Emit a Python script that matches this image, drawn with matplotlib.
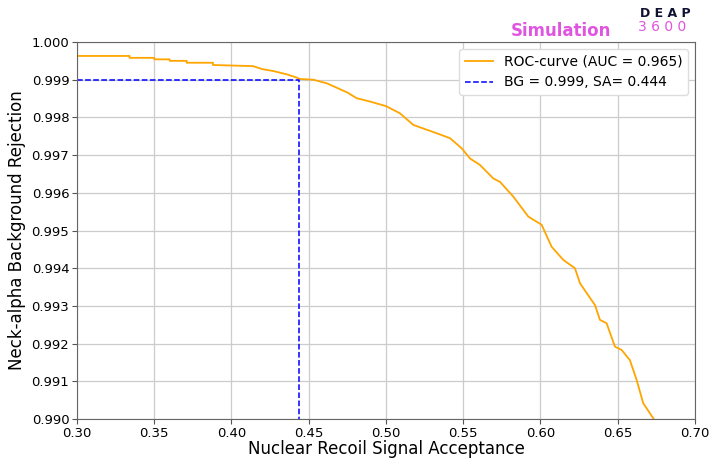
import numpy as np
import matplotlib
matplotlib.use("Agg")
import matplotlib.pyplot as plt

# ROC curve (signal acceptance, background rejection)
sig_acc = [0.300, 0.334, 0.334, 0.350, 0.350, 0.360, 0.360, 0.371, 0.371, 0.388,
           0.388, 0.414, 0.420, 0.427, 0.436, 0.442, 0.444, 0.453, 0.462, 0.475,
           0.481, 0.4897, 0.500, 0.509, 0.5177, 0.5328, 0.5414, 0.549, 0.5544,
           0.5608, 0.5695, 0.5738, 0.5824, 0.5921, 0.6008, 0.6072, 0.6148, 0.6223,
           0.6256, 0.6353, 0.6385, 0.6428, 0.6482, 0.6526, 0.6579, 0.6623, 0.6665,
           0.673, 0.675]
bg_rej = [0.99963, 0.99963, 0.99958, 0.99958, 0.99954, 0.99954, 0.99950, 0.99950,
          0.99945, 0.99945, 0.99939, 0.99936, 0.99928, 0.99923, 0.99914, 0.99906,
          0.99902, 0.99900, 0.99890, 0.99866, 0.99851, 0.99842, 0.99830, 0.99811,
          0.99780, 0.99758, 0.99745, 0.99718, 0.99691, 0.99674, 0.99638, 0.99629,
          0.99590, 0.99537, 0.99515, 0.99457, 0.99422, 0.99400, 0.99360, 0.99302,
          0.99263, 0.99254, 0.99192, 0.99183, 0.99156, 0.99103, 0.99042, 0.99002,
          0.98990]

auc = 0.965
cut_bg = 0.999
cut_sa = 0.444

fig = plt.figure(figsize=(7.09, 4.59), dpi=100)
ax = fig.add_axes([0.1086, 0.0871, 0.8716, 0.8214])

ax.plot(sig_acc, bg_rej, color='orange', lw=1.3,
        label='ROC-curve (AUC = %.3f)' % auc)
ax.plot([0.30, cut_sa, cut_sa], [cut_bg, cut_bg, 0.990], color='blue', ls='--', lw=1.1,
        label='BG = %.3f, SA= %.3f' % (cut_bg, cut_sa))

ax.set_xlim(0.30, 0.70)
ax.set_ylim(0.990, 1.000)
ax.set_xticks(np.arange(0.30, 0.701, 0.05))
ax.set_yticks(np.arange(0.990, 1.0001, 0.001))
ax.xaxis.set_major_formatter(matplotlib.ticker.FormatStrFormatter('%.2f'))
ax.yaxis.set_major_formatter(matplotlib.ticker.FormatStrFormatter('%.3f'))
ax.tick_params(labelsize=9.5, color='#555555', length=3.5, pad=2)
ax.grid(True, color='#cccccc', lw=0.9)
for s in ax.spines.values():
    s.set_color('#666666')

ax.set_xlabel('Nuclear Recoil Signal Acceptance', fontsize=12, labelpad=0)
ax.set_ylabel('Neck-alpha Background Rejection', fontsize=12, labelpad=4)
ax.legend(loc='upper right', fontsize=10, framealpha=1, edgecolor='#dddddd')

fig.text(0.72, 0.932, 'Simulation', color='#e055e0', fontsize=12, fontweight='bold',
         va='center')
fig.text(0.903, 0.970, 'D E A P', color='#111133', fontsize=9, fontweight='bold',
         va='center')
fig.text(0.900, 0.941, '3 6 0 0', color='#e055e0', fontsize=10, va='center')

fig.savefig('out.png', dpi=100)
